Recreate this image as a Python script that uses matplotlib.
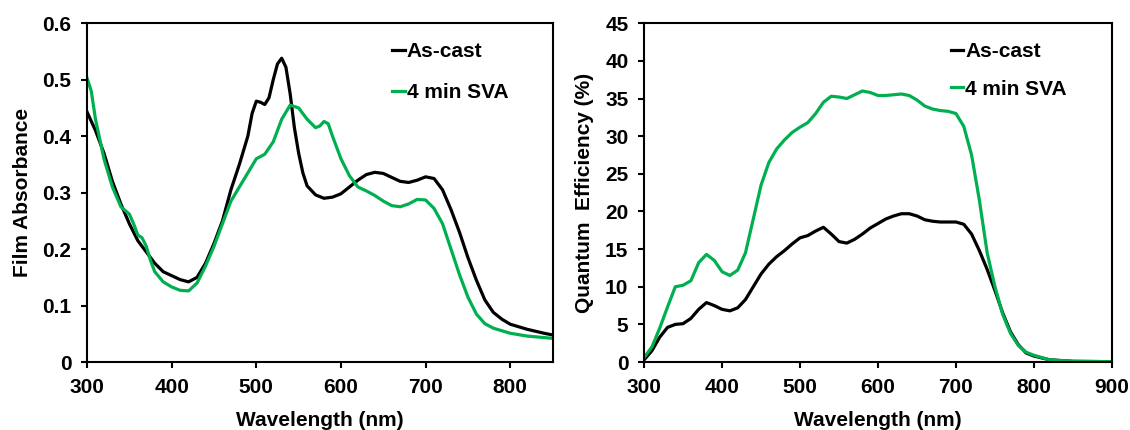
import matplotlib
matplotlib.use("Agg")
import matplotlib.pyplot as plt

plt.rcParams['font.family'] = ['Liberation Sans', 'DejaVu Sans']
plt.rcParams['font.weight'] = 'bold'

GREEN = '#00B050'

# --- absorbance (left) ---
wl_abs = [300, 310, 320, 330, 340, 350, 360, 370, 380, 390, 400, 410, 420, 430, 440,
          450, 460, 470, 480, 490, 495, 500, 505, 510, 515, 520, 525, 530, 535, 540,
          545, 550, 555, 560, 570, 580, 590, 600, 610, 620, 630, 640, 650, 660, 670,
          680, 690, 700, 710, 720, 730, 740, 750, 760, 770, 780, 790, 800, 820, 840, 850]
abs_cast = [0.443, 0.41, 0.37, 0.32, 0.28, 0.245, 0.215, 0.195, 0.175, 0.16, 0.153, 0.146,
            0.142, 0.15, 0.175, 0.21, 0.25, 0.305, 0.35, 0.40, 0.44, 0.462, 0.46, 0.456,
            0.468, 0.50, 0.528, 0.538, 0.522, 0.475, 0.415, 0.37, 0.335, 0.312, 0.296, 0.29,
            0.292, 0.298, 0.31, 0.322, 0.332, 0.336, 0.334, 0.327, 0.32, 0.318, 0.322,
            0.328, 0.325, 0.305, 0.27, 0.23, 0.185, 0.145, 0.11, 0.088, 0.076, 0.067,
            0.058, 0.051, 0.048]

wl_abs2 = [300, 305, 310, 320, 330, 340, 350, 355, 360, 365, 370, 375, 380, 390, 400, 410,
           420, 430, 440, 450, 460, 470, 480, 490, 500, 510, 520, 530, 540, 550, 560, 570,
           575, 580, 585, 590, 600, 610, 620, 630, 640, 650, 660, 670, 680, 690, 700, 710,
           720, 730, 740, 750, 760, 770, 780, 800, 820, 850]
abs_sva = [0.503, 0.48, 0.43, 0.36, 0.31, 0.275, 0.262, 0.245, 0.225, 0.22, 0.205, 0.18,
           0.16, 0.142, 0.133, 0.127, 0.126, 0.14, 0.17, 0.205, 0.245, 0.285, 0.31, 0.335,
           0.36, 0.368, 0.39, 0.43, 0.455, 0.45, 0.43, 0.415, 0.418, 0.426, 0.422, 0.40,
           0.36, 0.33, 0.31, 0.303, 0.295, 0.285, 0.277, 0.275, 0.28, 0.288, 0.287, 0.272,
           0.245, 0.20, 0.155, 0.115, 0.085, 0.068, 0.06, 0.051, 0.046, 0.042]

# --- quantum efficiency (right) ---
wl_qe = [300, 310, 320, 330, 340, 350, 360, 370, 380, 390, 400, 410, 420, 430, 440, 450,
         460, 470, 480, 490, 500, 510, 520, 530, 540, 550, 560, 570, 580, 590, 600, 610,
         620, 630, 640, 650, 660, 670, 680, 690, 700, 710, 720, 730, 740, 750, 760, 770,
         780, 790, 800, 820, 850, 900]
qe_cast = [0.3, 1.5, 3.3, 4.6, 5.0, 5.1, 5.8, 7.0, 7.9, 7.5, 7.0, 6.8, 7.2, 8.3, 10.0, 11.7,
           13.0, 14.0, 14.8, 15.7, 16.5, 16.8, 17.4, 17.9, 17.0, 16.0, 15.8, 16.3, 17.0, 17.8,
           18.4, 19.0, 19.4, 19.7, 19.7, 19.4, 18.9, 18.7, 18.6, 18.6, 18.6, 18.3, 17.0, 14.8,
           12.3, 9.5, 6.5, 4.0, 2.3, 1.2, 0.8, 0.3, 0.1, 0.05]
qe_sva = [0.6, 2.0, 4.5, 7.3, 10.0, 10.2, 10.8, 13.2, 14.3, 13.5, 12.0, 11.5, 12.2, 14.5,
          19.0, 23.5, 26.5, 28.3, 29.5, 30.5, 31.2, 31.8, 33.0, 34.5, 35.3, 35.2, 35.0, 35.5,
          36.0, 35.8, 35.4, 35.4, 35.5, 35.6, 35.4, 34.8, 34.0, 33.6, 33.4, 33.3, 33.0, 31.3,
          27.5, 21.5, 14.5, 10.0, 6.3, 3.8, 2.2, 1.3, 0.9, 0.3, 0.1, 0.05]

labels = ['As-cast', '4 min SVA']

fig = plt.figure(figsize=(11.3, 4.3), dpi=100)
ax1 = fig.add_axes([0.077, 0.158, 0.412, 0.788])
ax2 = fig.add_axes([0.570, 0.158, 0.414, 0.788])

ax1.plot(wl_abs, abs_cast, color='black', lw=2.3, label=labels[0])
ax1.plot(wl_abs2, abs_sva, color=GREEN, lw=2.3, label=labels[1])
ax2.plot(wl_qe, qe_cast, color='black', lw=2.3, label=labels[0])
ax2.plot(wl_qe, qe_sva, color=GREEN, lw=2.3, label=labels[1])

ax1.set_xlim(300, 850)
ax1.set_ylim(0, 0.6)
ax1.set_xticks([300, 400, 500, 600, 700, 800])
ax1.set_yticks([0, 0.1, 0.2, 0.3, 0.4, 0.5, 0.6])
ax1.set_yticklabels(['0', '0.1', '0.2', '0.3', '0.4', '0.5', '0.6'])
ax1.set_ylabel('Film Absorbance', fontsize=15, fontweight='bold', labelpad=7)

ax2.set_xlim(300, 900)
ax2.set_ylim(0, 45)
ax2.set_xticks(range(300, 901, 100))
ax2.set_yticks(range(0, 46, 5))
ax2.set_ylabel('Quantum  Efficiency (%)', fontsize=15, fontweight='bold', labelpad=8)

for ax, ls in ((ax1, 1.05), (ax2, 0.9)):
    ax.set_xlabel('Wavelength (nm)', fontsize=15, fontweight='bold', labelpad=10)
    ax.tick_params(direction='out', length=4.3, width=1.5, labelsize=15, pad=7)
    for sp in ax.spines.values():
        sp.set_linewidth(1.5)
    for t in ax.get_xticklabels() + ax.get_yticklabels():
        t.set_fontweight('bold')
    ax.legend(loc='upper left', bbox_to_anchor=(0.615, 1.0), frameon=False,
              handlelength=0.6, handletextpad=0.1, labelspacing=ls,
              prop={'size': 15, 'weight': 'bold'})

fig.savefig('out.png', dpi=100)
